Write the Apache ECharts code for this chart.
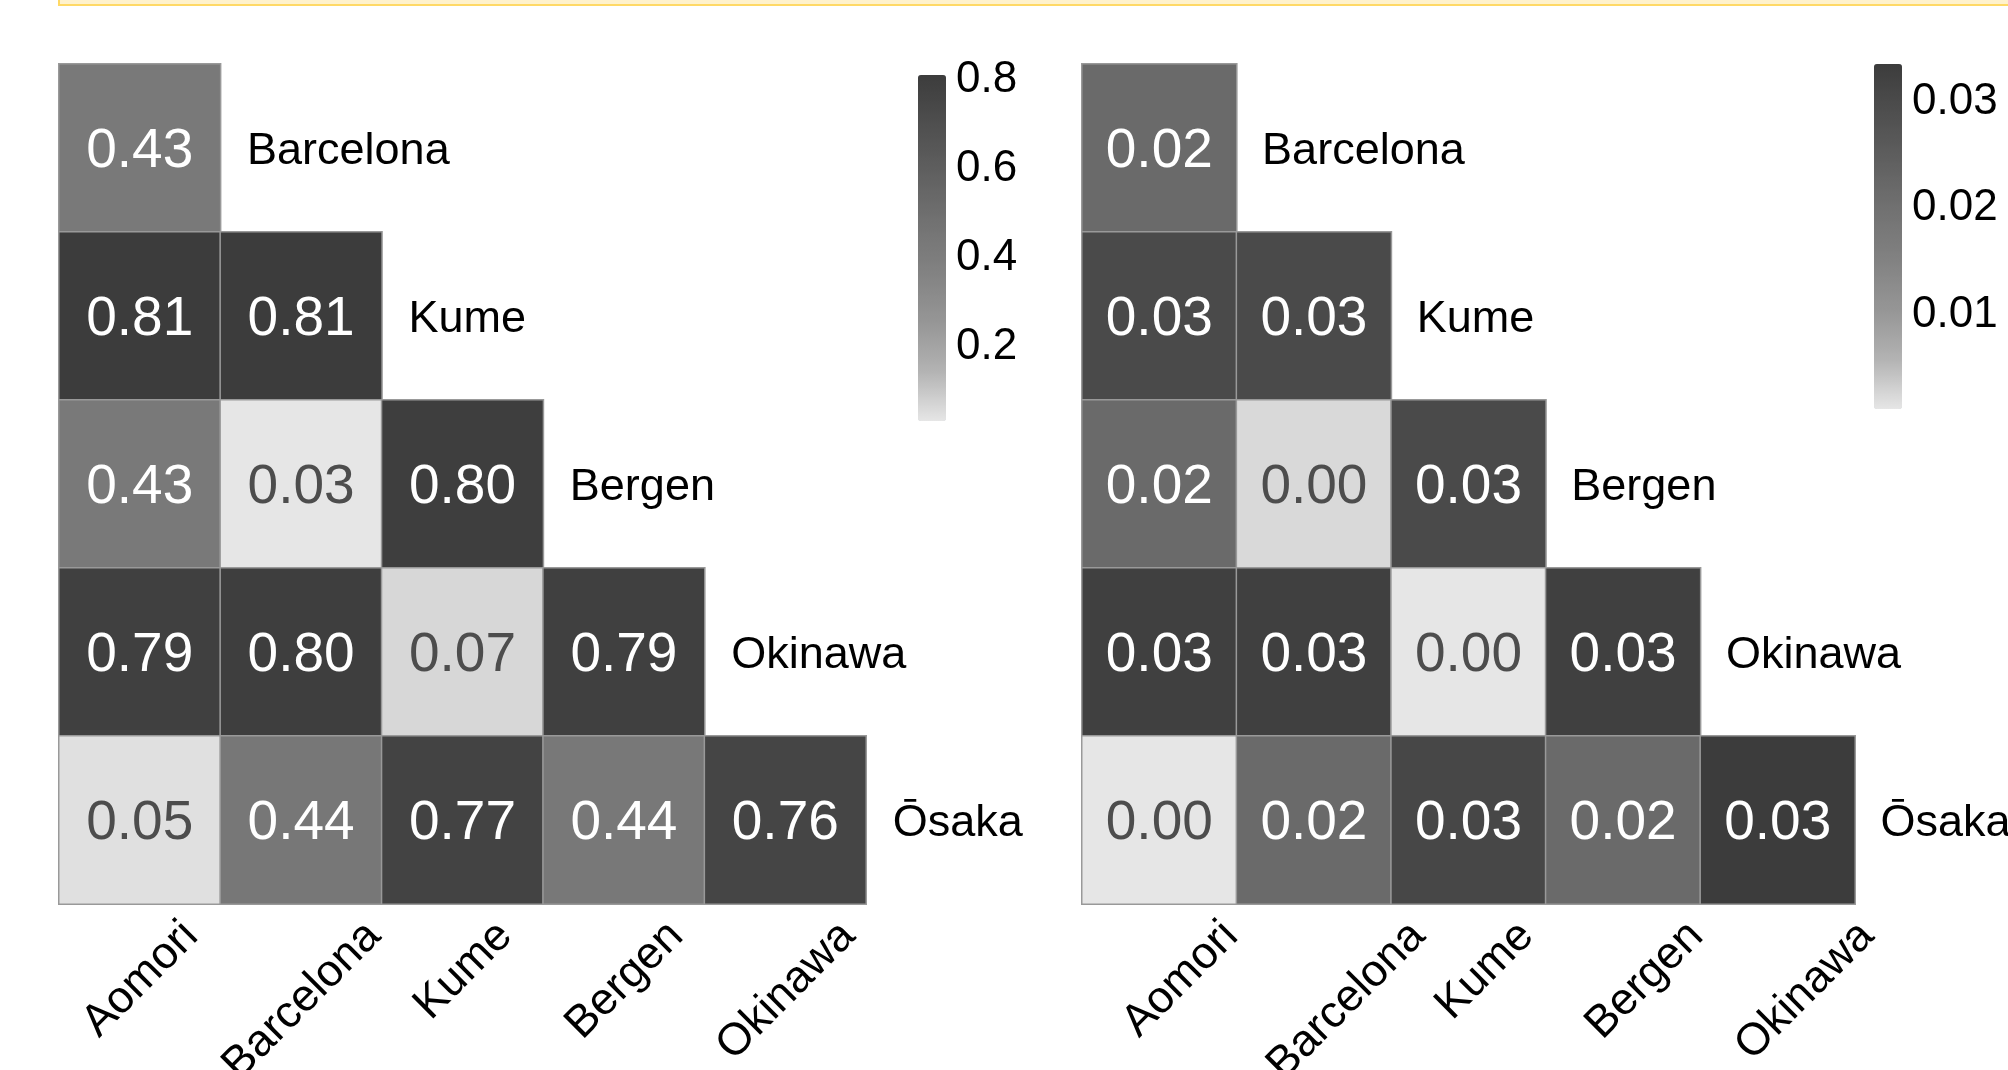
<!DOCTYPE html>
<html>
<head>
<meta charset="utf-8">
<script src="https://cdn.jsdelivr.net/npm/echarts@6/dist/echarts.min.js"></script>
<style>
html,body{margin:0;padding:0;background:#fff;}
#chart{width:2008px;height:1070px;}
</style>
</head>
<body>
<div id="chart"></div>
<script>
// ---- data ----
const xCategories = ['Aomori', 'Barcelona', 'Kume', 'Bergen', 'Okinawa'];
const yCategories = ['Barcelona', 'Kume', 'Bergen', 'Okinawa', 'Ōsaka'];
// lower-triangle values, row by row (row i has i+1 values)
const leftRow0 = [0.431];
const leftRow1 = [0.812, 0.811];
const leftRow2 = [0.428, 0.034, 0.801];
const leftRow3 = [0.791, 0.803, 0.066, 0.789];
const leftRow4 = [0.048, 0.441, 0.772, 0.440, 0.762];
const rightRow0 = [0.0217];
const rightRow1 = [0.0301, 0.0301];
const rightRow2 = [0.0216, 0.0024, 0.0302];
const rightRow3 = [0.0325, 0.0325, 0.0012, 0.0325];
const rightRow4 = [0.0012, 0.0217, 0.0308, 0.0217, 0.0335];
const leftTicks = [0.2, 0.4, 0.6, 0.8];
const rightTicks = [0.01, 0.02, 0.03];
const leftRange = [0.034, 0.812];
const rightRange = [0.0012, 0.0335];

const leftRows = [leftRow0, leftRow1, leftRow2, leftRow3, leftRow4];
const rightRows = [rightRow0, rightRow1, rightRow2, rightRow3, rightRow4];

const FONT = '"Liberation Sans", Arial, Helvetica, sans-serif';
const rampColors = ['#e6e6e6', '#b3b3b3', '#969696', '#828282', '#727272', '#606060', '#4f4f4f', '#3c3c3c'];
const TEXT_DY = 4; // small downward nudge so glyphs sit visually centred

const measureCtx = document.createElement('canvas').getContext('2d');
measureCtx.font = '45px ' + FONT;
function textWidth(s) { return measureCtx.measureText(s).width; }

function cells(rows, range) {
  const out = [];
  rows.forEach((row, r) => {
    row.forEach((v, c) => {
      const f = (v - range[0]) / (range[1] - range[0]);
      out.push({
        value: [c, r, v],
        label: { color: f < 0.3 ? '#4d4d4d' : '#ffffff' }
      });
    });
  });
  return out;
}

const rowLabelData = yCategories.map((n, i) => [i, i]);
const colLabelData = xCategories.map((n, i) => [i, yCategories.length - 1]);

function rowLabelSeries(gridIdx) {
  return {
    type: 'custom',
    xAxisIndex: gridIdx,
    yAxisIndex: gridIdx,
    silent: true,
    data: rowLabelData,
    renderItem: function (params, api) {
      const i = api.value(0);
      const pt = api.coord([i, i]);
      const sz = api.size([1, 1]);
      return {
        type: 'text',
        style: {
          x: pt[0] + sz[0] / 2 + sz[0] * 0.165,
          y: pt[1] + TEXT_DY,
          text: yCategories[i],
          fill: '#000',
          fontSize: 45,
          fontFamily: FONT,
          align: 'left',
          verticalAlign: 'middle'
        }
      };
    }
  };
}

// rotated column labels (45°), bounding box centred under each column
function colLabelSeries(gridIdx, a0, k) {
  return {
    type: 'custom',
    xAxisIndex: gridIdx,
    yAxisIndex: gridIdx,
    silent: true,
    data: colLabelData,
    renderItem: function (params, api) {
      const i = api.value(0);
      const pt = api.coord([i, api.value(1)]);
      const sz = api.size([1, 1]);
      const name = xCategories[i];
      const L = textWidth(name);
      return {
        type: 'text',
        x: pt[0] + a0 + k * (L - 157),
        y: pt[1] + sz[1] / 2 + 25 + 0.354 * L,
        rotation: Math.PI / 4,
        style: {
          x: 0, y: 0,
          text: name,
          fill: '#000',
          fontSize: 45,
          fontFamily: FONT,
          align: 'center',
          verticalAlign: 'middle'
        }
      };
    }
  };
}

function catX(gridIdx) {
  return {
    type: 'category', gridIndex: gridIdx, data: xCategories,
    axisLine: { show: false }, axisTick: { show: false }, splitLine: { show: false },
    axisLabel: { show: false }
  };
}
function catY(gridIdx) {
  return {
    type: 'category', gridIndex: gridIdx, data: yCategories, inverse: true,
    axisLine: { show: false }, axisTick: { show: false }, axisLabel: { show: false },
    splitLine: { show: false }
  };
}
function barY(gridIdx, range, ticks, digits) {
  return {
    type: 'value', gridIndex: gridIdx, position: 'right', min: range[0], max: range[1],
    axisLine: { show: false }, axisTick: { show: false }, splitLine: { show: false },
    axisLabel: {
      customValues: ticks, margin: 10, fontSize: 44, color: '#000', fontFamily: FONT,
      padding: [2 * TEXT_DY, 0, 0, 0],
      formatter: v => Number(v).toFixed(digits)
    }
  };
}
function hiddenX(gridIdx) {
  return { type: 'value', gridIndex: gridIdx, show: false, min: 0, max: 1 };
}

function heat(gridIdx, rows, range) {
  return {
    type: 'heatmap',
    xAxisIndex: gridIdx, yAxisIndex: gridIdx,
    data: cells(rows, range),
    itemStyle: { borderColor: '#999999', borderWidth: 1.5 },
    label: {
      show: true, fontSize: 55, fontFamily: FONT, offset: [0, TEXT_DY],
      formatter: p => p.value[2].toFixed(2)
    },
    emphasis: { disabled: true }
  };
}

const G = { containLabel: false, outerBoundsMode: 'none' };

const chart = echarts.init(document.getElementById('chart'), null, { renderer: 'canvas' });
chart.setOption({
  backgroundColor: '#ffffff',
  animation: false,
  textStyle: { fontFamily: FONT },
  graphic: [{
    type: 'rect', silent: true,
    shape: { x: 59, y: -30, width: 2000, height: 35 },
    style: { fill: '#fff2cc', stroke: '#ffd966', lineWidth: 2 }
  }],
  grid: [
    Object.assign({ left: 59, top: 64, width: 807, height: 840 }, G),
    Object.assign({ left: 1082, top: 64, width: 773, height: 840 }, G),
    Object.assign({ left: 918, top: 75, width: 28, height: 346 }, G),
    Object.assign({ left: 1874, top: 64, width: 28, height: 345 }, G)
  ],
  xAxis: [catX(0), catX(1), hiddenX(2), hiddenX(3)],
  yAxis: [catY(0), catY(1), barY(2, leftRange, leftTicks, 1), barY(3, rightRange, rightTicks, 2)],
  visualMap: [
    {
      type: 'continuous', seriesIndex: 0, dimension: 2,
      min: leftRange[0], max: leftRange[1],
      left: 918, top: 75, itemWidth: 28, itemHeight: 346, padding: 0,
      calculable: false, hoverLink: false,
      inRange: { color: rampColors }, text: null
    },
    {
      type: 'continuous', seriesIndex: 1, dimension: 2,
      min: rightRange[0], max: rightRange[1],
      left: 1874, top: 64, itemWidth: 28, itemHeight: 345, padding: 0,
      calculable: false, hoverLink: false,
      inRange: { color: rampColors }, text: null
    }
  ],
  series: [
    heat(0, leftRows, leftRange),
    heat(1, rightRows, rightRange),
    rowLabelSeries(0),
    rowLabelSeries(1),
    colLabelSeries(0, 1, 0),
    colLabelSeries(1, 24, 0.19)
  ]
});
</script>
</body>
</html>
